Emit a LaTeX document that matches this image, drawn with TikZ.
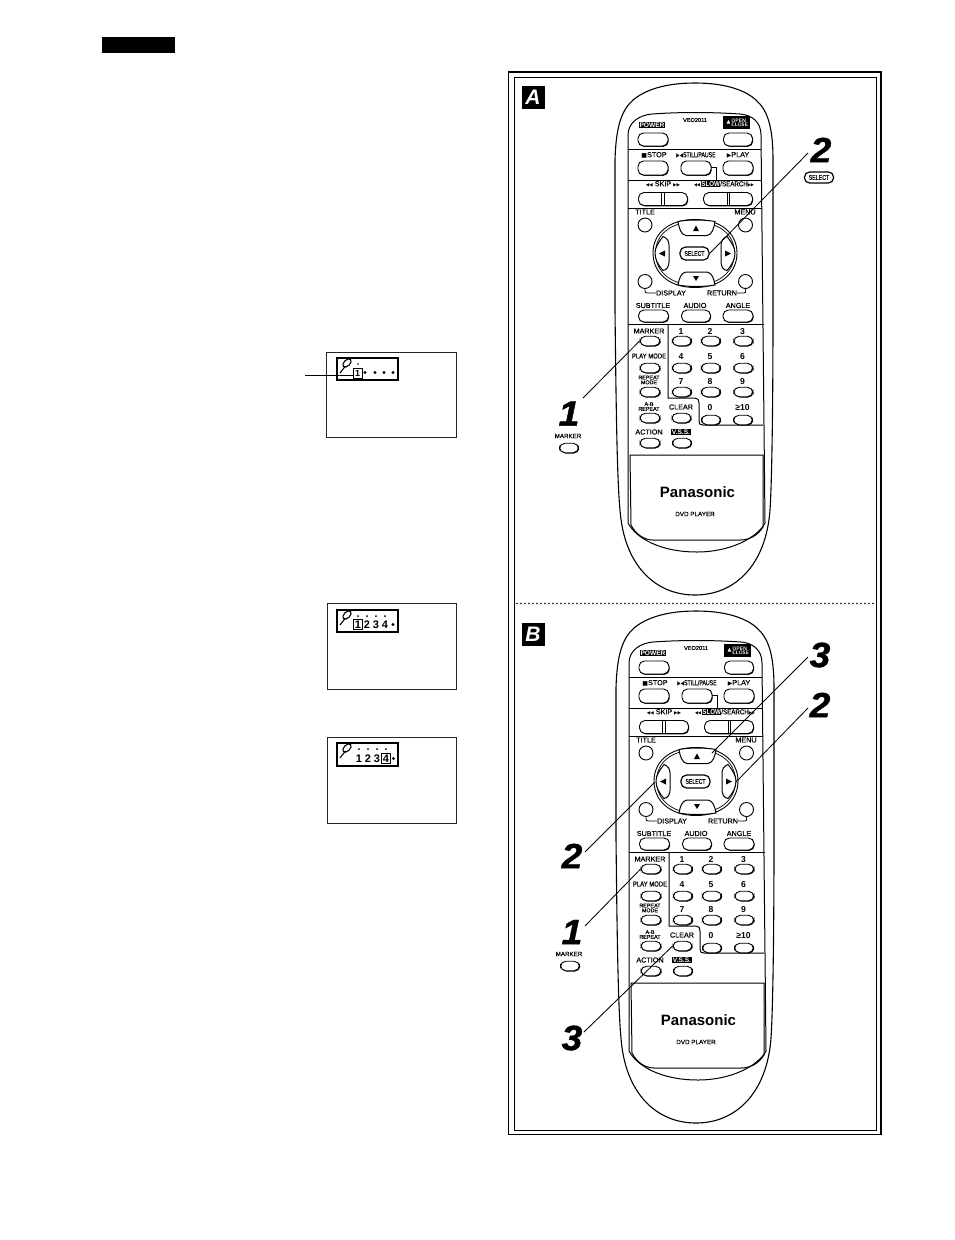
\documentclass[tikz,border=0pt]{standalone}
\usepackage{fontspec}
\setmainfont{Liberation Sans}[UprightFeatures={FakeBold=0.35}]
\newfontfamily\symfont{DejaVu Sans}
\newfontfamily\stepfont{Liberation Sans}[BoldItalicFeatures={FakeBold=1.2,FakeStretch=1.06}]
\usetikzlibrary{shadows}
\newcommand\lblsize[1]{\fontsize{#1}{#1}\selectfont}
\tikzset{
  x=1pt,y=-1pt,
  rim/.style={draw=black,line width=1pt},
  btn/.style n args={2}{draw=black,fill=white,line width=.9pt,rounded corners=5.4pt,
    minimum width=#1,minimum height=#2,inner sep=0pt,
    general shadow={shadow xshift=.7pt,shadow yshift=-.8pt,fill=black}},
  roundbtn/.style={draw=black,fill=white,line width=.9pt,circle,minimum size=14pt,inner sep=0pt},
  lbl/.style={font=\lblsize{7.2},inner sep=0pt,text=black},
  num/.style={font=\lblsize{8.6}\bfseries,inner sep=0pt,text height=6.2pt,text depth=0pt},
  inv/.style={fill=black,text=white,inner sep=.8pt,font=\lblsize{6.6}\bfseries},
  stepnum/.style={font=\stepfont\lblsize{35}\bfseries\itshape,inner sep=0pt},
  leader/.style={draw=black,line width=.85pt},
  screen/.style={draw=black!85,line width=.9pt},
  indicator/.style={draw=black,line width=1.1pt},
  tick/.style={fill=black,circle,inner sep=0pt,minimum size=2pt},
  bullet/.style={fill=black,circle,inner sep=0pt,minimum size=3.4pt},
  osdnum/.style={font=\lblsize{11}\bfseries,inner sep=0pt,text height=8pt,text depth=0pt},
  tag/.style={fill=black,text=white,font=\lblsize{21}\bfseries\itshape,minimum width=23pt,minimum height=23pt,inner sep=0pt},
}
% Remote control handset, #1 = name prefix, #2,#3 = offset
\newcommand\handset[3]{%
\begin{scope}[shift={(#2,#3)}]
  % case outline and face plate
  \draw[line width=1.1pt] (695,83) .. controls (665,83) and (645,90) .. (633,100)
    .. controls (622,110) and (616,125) .. (615,160) -- (615,310)
    .. controls (616,400) and (617,480) .. (620,510)
    .. controls (624,565) and (655,595) .. (695,595)
    .. controls (735,595) and (766,565) .. (770,510)
    .. controls (772,480) and (773,400) .. (773,310) -- (773,160)
    .. controls (773,125) and (767,110) .. (756,100)
    .. controls (745,90) and (725,83) .. (695,83) -- cycle;
  \draw[rim] (628,135) .. controls (628,122) and (640,115) .. (652,114)
    .. controls (680,112) and (710,112) .. (740,114)
    .. controls (752,115) and (761,122) .. (761,135) -- (765,523)
    .. controls (757,538) and (730,552) .. (697,552)
    .. controls (660,552) and (636,538) .. (628,523) -- cycle;
  \draw[rim] (628,149) -- (761,149);
  \draw[rim] (628,180) -- (762,180);
  \draw[rim] (628,208) -- (762,208);
  \draw[rim] (628,324) -- (764,324);
  \draw[rim] (630,455) -- (631,525) .. controls (636,535) and (645,540) .. (653,540)
    -- (740,540) .. controls (750,540) and (758,535) .. (763,527) -- (763,455) -- cycle;
  % block of number keys
  \draw[rim] (668,324) -- (668,398) -- (695,398) .. controls (698,398) and (699,400) .. (699,403)
    -- (699,421) .. controls (699,424) and (700,425) .. (703,425) -- (763,425);
  % top row
  \node[inv] (#1-powerlbl) at (652,125) {POWER};
  \node[lbl,font=\lblsize{5.6}] (#1-model) at (695,120) {VEO2011};
  \node[fill=black,text=white,minimum width=27pt,minimum height=13pt,inner sep=0pt] (#1-openlbl) at (736,122.5)
    {\symfont\lblsize{5}▲\,\raisebox{-.4pt}{\parbox{14pt}{\centering\sffamily\lblsize{5}\bfseries OPEN\\[-.6pt]CLOSE}}};
  \node[btn={30pt}{13pt}] (#1-power) at (653,139.5) {};
  \node[btn={29pt}{13pt}] (#1-open) at (738,139.5) {};
  \node[lbl] (#1-stoplbl) at (654,155) {{\symfont\lblsize{6}■}STOP};
  \node[lbl] (#1-stilllbl) at (696,155) {\scalebox{.72}[1]{{\symfont\lblsize{6}▶◀}STILL/PAUSE}};
  \node[lbl] (#1-playlbl) at (738,155) {{\symfont\lblsize{6}▶}PLAY};
  \node[btn={30pt}{14pt}] (#1-stop) at (653,168) {};
  \node[btn={30pt}{14pt}] (#1-still) at (696,168) {};
  \node[btn={30pt}{14pt}] (#1-play) at (738,168) {};
  \draw[line width=.8pt] (711,167) -- (716,167) -- (716,180);
  % skip and search keys
  \node[lbl] (#1-skiplbl) at (663,184) {{\symfont\lblsize{4.5}◀◀} SKIP {\symfont\lblsize{4.5}▶▶}};
  \node[lbl] (#1-searchlbl) at (724,184) {\scalebox{.86}[1]{{\symfont\lblsize{4.5}◀◀}\,{\setlength{\fboxsep}{.3pt}\colorbox{black}{\textcolor{white}{\bfseries SLOW}}}/SEARCH{\symfont\lblsize{4.5}▶▶}}};
  \node[btn={49pt}{13pt}] (#1-skip) at (663,199) {};
  \node[btn={49pt}{13pt}] (#1-search) at (728,199) {};
  \draw[line width=.7pt] (661.5,193) -- (661.5,205) (664,193) -- (664,205);
  \draw[line width=.7pt] (727,193) -- (727,205) (729.5,193) -- (729.5,205);
  % navigation cluster
  \node[lbl] (#1-titlelbl) at (645,212) {TITLE};
  \node[lbl] (#1-menulbl) at (745,212) {MENU};
  \draw[line width=.9pt] (695,219.5) .. controls (722,219.5) and (737,234) .. (737,253)
    .. controls (737,272) and (722,287.5) .. (695,287.5)
    .. controls (668,287.5) and (653,272) .. (653,253)
    .. controls (653,234) and (668,219.5) .. (695,219.5) -- cycle;
  \draw[line width=.7pt] (695,222) .. controls (720,222) and (734.5,235) .. (734.5,253)
    .. controls (734.5,271) and (720,285) .. (695,285)
    .. controls (670,285) and (655.5,271) .. (655.5,253)
    .. controls (655.5,235) and (670,222) .. (695,222) -- cycle;
  \node[roundbtn] (#1-title) at (645,225) {};
  \node[roundbtn] (#1-menu) at (745.5,225) {};
  \node[roundbtn] (#1-display) at (645,281.5) {};
  \node[roundbtn] (#1-return) at (745.5,281.5) {};
  % direction keys
  \draw[fill=white,line width=1pt] (678,221.5) .. controls (688,219.5) and (704,219.5) .. (715,221.5)
    .. controls (714,228) and (712,235) .. (707,235.5) -- (686,235.5) .. controls (681,235) and (679,228) .. (678,221.5) -- cycle;
  \draw[fill=white,line width=1pt] (678,285) .. controls (688,287) and (704,287) .. (715,285)
    .. controls (714,279) and (712,272.5) .. (707,272) -- (686,272) .. controls (681,272.5) and (679,279) .. (678,285) -- cycle;
  \draw[fill=white,line width=1pt] (663,236.5) .. controls (658,243) and (655,248) .. (655,253)
    .. controls (655,259) and (658,265) .. (663,270.5) .. controls (667,270) and (669,266) .. (669,262)
    -- (669,245) .. controls (669,241) and (667,238) .. (663,236.5) -- cycle;
  \draw[fill=white,line width=1pt] (727,236.5) .. controls (732,243) and (735,248) .. (735,253)
    .. controls (735,259) and (732,265) .. (727,270.5) .. controls (723,270) and (721,266) .. (721,262)
    -- (721,245) .. controls (721,241) and (723,238) .. (727,236.5) -- cycle;
  \fill (696,225.5) -- (699,231) -- (693,231) -- cycle;
  \fill (696,281) -- (699,276) -- (693,276) -- cycle;
  \fill (659,253.5) -- (665,250.5) -- (665,256.5) -- cycle;
  \fill (731,253.5) -- (725,250.5) -- (725,256.5) -- cycle;
  \coordinate (#1-upkey) at (711,225);
  \coordinate (#1-leftkey) at (654,254);
  \coordinate (#1-rightkey) at (735,254);
  \node[draw=black,fill=white,line width=1.2pt,rounded corners=5.5pt,minimum width=29pt,minimum height=13pt,inner sep=0pt,
        font=\lblsize{6.6}] (#1-select) at (694.5,253.5) {\scalebox{.78}[1]{SELECT}};
  \node[lbl] (#1-displaylbl) at (671,293) {DISPLAY};
  \node[lbl] (#1-returnlbl) at (722,293) {RETURN};
  \draw[line width=.8pt,rounded corners=2pt] (#1-display.south) -- (645,293) -- (#1-displaylbl.west);
  \draw[line width=.8pt,rounded corners=2pt] (#1-return.south) -- (746,293) -- (#1-returnlbl.east);
  % function row
  \node[lbl] (#1-subtitlelbl) at (653,305.5) {SUBTITLE};
  \node[lbl] (#1-audiolbl) at (695,305.5) {AUDIO};
  \node[lbl] (#1-anglelbl) at (738,305.5) {ANGLE};
  \node[btn={30pt}{12pt}] (#1-subtitle) at (653.5,316) {};
  \node[btn={29pt}{12pt}] (#1-audio) at (696,316) {};
  \node[btn={30pt}{12pt}] (#1-angle) at (738,316) {};
  % left column
  \node[lbl] (#1-markerlbl) at (649,331) {MARKER};
  \node[lbl] (#1-playmodelbl) at (649,356) {\scalebox{.82}[1]{PLAY MODE}};
  \node[lbl,font=\lblsize{5.4},align=center] (#1-repeatlbl) at (649,380) {REPEAT\\[-.6pt]MODE};
  \node[lbl,font=\lblsize{5.4},align=center] (#1-ablbl) at (649,406.5) {A-B\\[-.6pt]REPEAT};
  \node[lbl] (#1-actionlbl) at (649,432) {ACTION};
  \node[inv] (#1-vsslbl) at (681,432) {V.S.S.};
  \node[lbl] (#1-clearlbl) at (681,407) {CLEAR};
  \node[btn={20pt}{9.5pt}] (#1-marker) at (650,341) {};
  \node[btn={20pt}{9.5pt}] (#1-playmode) at (650,368) {};
  \node[btn={20pt}{9.5pt}] (#1-repeat) at (650,392) {};
  \node[btn={20pt}{9.5pt}] (#1-ab) at (650,418) {};
  \node[btn={20pt}{9.5pt}] (#1-action) at (650,443) {};
  \node[btn={19pt}{9.5pt}] (#1-vss) at (682,443) {};
  \node[btn={19pt}{9.5pt}] (#1-clear) at (681.5,418) {};
  % number keys
  \foreach \k/\px/\py/\by in {1/681/331/341,2/710/331/341,3/742.5/331/341,
                              4/681/356/368,5/710/356/368,6/742.5/356/368,
                              7/681/381.5/392,8/710/381.5/392,9/742.5/381.5/392}{
    \node[num] (#1-n\k) at (\px,\py) {\k};
    \node[btn={19pt}{9.5pt}] (#1-key\k) at ({\px+.8},\by) {};
  }
  \node[num] (#1-n0) at (710,407) {0};
  \node[num] (#1-nten) at (742.5,407) {≥10};
  \node[btn={19pt}{9.5pt}] (#1-key0) at (711,420) {};
  \node[btn={19pt}{9.5pt}] (#1-keyten) at (743,420) {};
  % maker's name
  \node[inner sep=0pt,font=\lblsize{15}\bfseries] (#1-brand) at (697.5,492) {Panasonic};
  \node[inner sep=0pt,font=\lblsize{6.3}] (#1-model2) at (695,514) {DVD PLAYER};
\end{scope}}
% Pin symbol of the on-screen marker bar, #1,#2 = position of the pin head
\newcommand\markerpin[2]{%
  \draw[line width=1.1pt] (#1-7,#2+10) -- (#1-1.5,#2+3);
  \draw[line width=1.1pt,rotate around={-45:(#1,#2)}] (#1,#2) ellipse (3 and 5);
}
\begin{document}
\begin{tikzpicture}
  \useasboundingbox (0,0) rectangle (954,1240);
  \fill[white] (0,0) rectangle (954,1240);
  \fill[black] (102,37) rectangle (175,53);

  % ---- on-screen displays ----
  \draw[screen] (326,352) rectangle (456.5,437.5);
  \draw[indicator] (337,358) rectangle (398,380);
  \markerpin{347}{363}
  \node[tick,minimum size=1.6pt] (d1t) at (358,364) {};
  \node[draw=black,line width=.8pt,fill=white,inner sep=1pt,minimum width=9pt,minimum height=10pt,font=\lblsize{9}\bfseries] (d1one) at (357.5,373) {1};
  \node[bullet] (d1b1) at (365,372.5) {};
  \node[bullet] (d1b2) at (375,372.5) {};
  \node[bullet] (d1b3) at (384,372.5) {};
  \node[bullet] (d1b4) at (393,372.5) {};
  \coordinate (d1lead) at (305,375);
  \draw[leader] (d1lead) -- (d1lead -| d1one.west);

  \draw[screen] (327,603) rectangle (456.5,689);
  \draw[indicator] (337,610) rectangle (398,632);
  \markerpin{347}{615}
  \foreach \nn/\xx in {1/358,2/367,3/376,4/385}{
    \node[tick] (d2t\nn) at (\xx,616) {};
    \node[osdnum] (d2n\nn) at (\xx,624.5) {\nn};
  }
  \node[bullet] (d2b) at (393,624.5) {};
  \node[draw=black,line width=.8pt,minimum width=8.5pt,minimum height=10pt,inner sep=0pt] (d2sel) at (d2n1) {};

  \draw[screen] (327,737) rectangle (456.5,823);
  \draw[indicator] (337,743) rectangle (398,766);
  \markerpin{347}{748}
  \foreach \nn/\xx in {1/359,2/368,3/377,4/386}{
    \node[tick] (d3t\nn) at (\xx,749) {};
    \node[osdnum] (d3n\nn) at (\xx,758.5) {\nn};
  }
  \node[bullet] (d3b) at (393.5,758.5) {};
  \node[draw=black,line width=.8pt,minimum width=8.5pt,minimum height=10pt,inner sep=0pt] (d3sel) at (d3n4) {};

  % ---- double frame with dotted divider ----
  \draw[line width=1.1pt] (508.5,72) rectangle (881,1134.5);
  \draw[line width=1pt] (514,77) rectangle (876,1130);
  \draw[line width=1.9pt,line cap=round,dash pattern=on 0pt off 4pt] (517,603.5) -- (875,603.5);
  \node[tag] (tagA) at (533,97) {A};
  \node[tag] (tagB) at (533,634) {B};

  % ---- handsets ----
  \handset{a}{0}{0}
  \handset{b}{1}{528}

  % ---- upper panel callouts ----
  \node[stepnum] (a2) at (821,150) {2};
  \node[draw=black,line width=1.2pt,rounded corners=5pt,minimum width=29pt,minimum height=11pt,inner sep=0pt,font=\lblsize{6.8}] (aselicon) at (819,177.5) {\scalebox{.78}[1]{SELECT}};
  \coordinate (a2tip) at (808,153);
  \draw[leader] (a2tip) -- (a-select.east);
  \node[stepnum] (a1) at (569,413.5) {1};
  \node[lbl,font=\lblsize{6.2}] (amlbl) at (568,436) {MARKER};
  \node[btn={19pt}{9.5pt}] (amicon) at (569,448) {};
  \coordinate (a1tip) at (583,398);
  \draw[leader] (a1tip) -- (a-marker.west);

  % ---- lower panel callouts ----
  \node[stepnum] (b3up) at (820,655) {3};
  \coordinate (b3uptip) at (808,657);
  \draw[leader] (b3uptip) -- (b-upkey);
  \node[stepnum] (b2r) at (820,705) {2};
  \coordinate (b2rtip) at (808,708);
  \draw[leader] (b2rtip) -- (b-rightkey);
  \node[stepnum] (b2l) at (572,856) {2};
  \coordinate (b2ltip) at (585,852);
  \draw[leader] (b2ltip) -- (b-leftkey);
  \node[stepnum] (b1) at (572,932) {1};
  \coordinate (b1tip) at (585,926);
  \draw[leader] (b1tip) -- (b-marker.west);
  \node[lbl,font=\lblsize{6.2}] (bmlbl) at (569,954) {MARKER};
  \node[btn={19pt}{9.5pt}] (bmicon) at (570,966) {};
  \node[stepnum] (b3d) at (572,1038) {3};
  \coordinate (b3dtip) at (584,1032);
  \draw[leader] (b3dtip) -- (b-clear.west);
\end{tikzpicture}
\end{document}
